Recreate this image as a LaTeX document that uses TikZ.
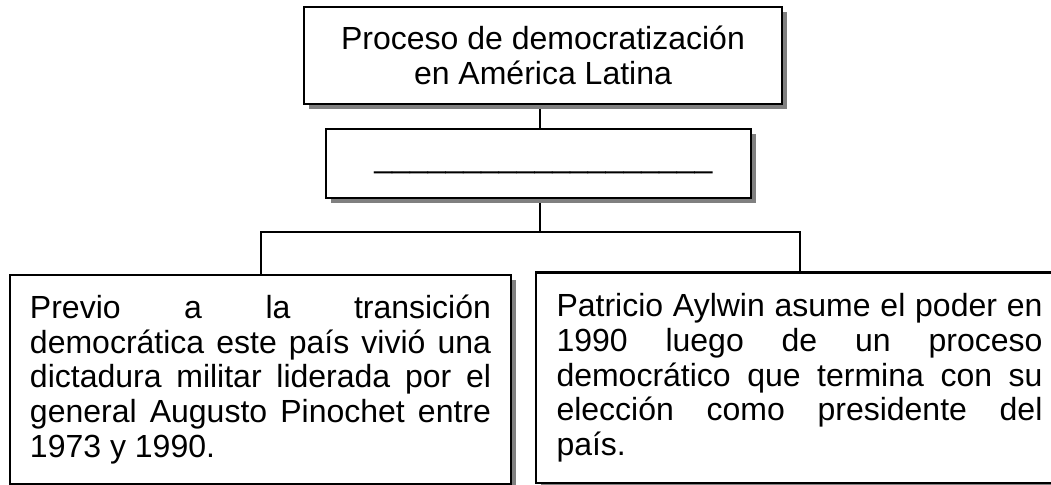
\documentclass[tikz,border=0pt]{standalone}
\usepackage{fontspec}
\setmainfont{Liberation Sans}
\usetikzlibrary{shadows,backgrounds}
\tolerance=10000
\pretolerance=-1
\hyphenpenalty=10000
\begin{document}
\begin{tikzpicture}[x=1bp,y=-1bp,
  box/.style={draw=black, line width=2.4bp, fill=white,
    drop shadow={shadow xshift=5bp, shadow yshift=-5bp, fill=black!50, opacity=1},
    font=\fontsize{32bp}{34.6bp}\selectfont, inner sep=0pt},
  textbox/.style={box, align=justify},
  link/.style={draw=black, line width=2bp}]
\useasboundingbox (0,0) rectangle (1051,485);
\node[box, minimum width=478bp, minimum height=97bp, align=center] (top) at (543,55.5)
  {Proceso de democratización\\en América Latina};
\node[box, minimum width=425bp, minimum height=69bp] (mid) at (538.5,163.5)
  {\hspace*{10bp}\smash{\raisebox{-4.5bp}{\_\_\_\_\_\_\_\_\_\_\_\_\_\_\_\_\_\_\_}}};
\node[textbox, text width=461bp, inner xsep=20bp, minimum height=209bp] (left) at (260.5,379.5)
  {Previo a la transición\linebreak democrática este país vivió una\linebreak dictadura militar liderada por el\linebreak general Augusto Pinochet entre\linebreak 1973 y 1990.};
\node[textbox, text width=486bp, inner xsep=20.5bp, minimum height=210.5bp] (right) at (799.5,377.75)
  {Patricio Aylwin asume el poder en\linebreak 1990 luego de un proceso\linebreak democrático que termina con su\linebreak elección como presidente del\linebreak país.};
\coordinate (hub) at (540,232);
\begin{scope}[on background layer]
  \draw[link] (top.south -| hub) -- (mid.north -| hub);
  \draw[link] (mid.south -| hub) -- (hub);
  \draw[link] (left.north) |- (hub) -| (right.north);
\end{scope}
\end{tikzpicture}
\end{document}
